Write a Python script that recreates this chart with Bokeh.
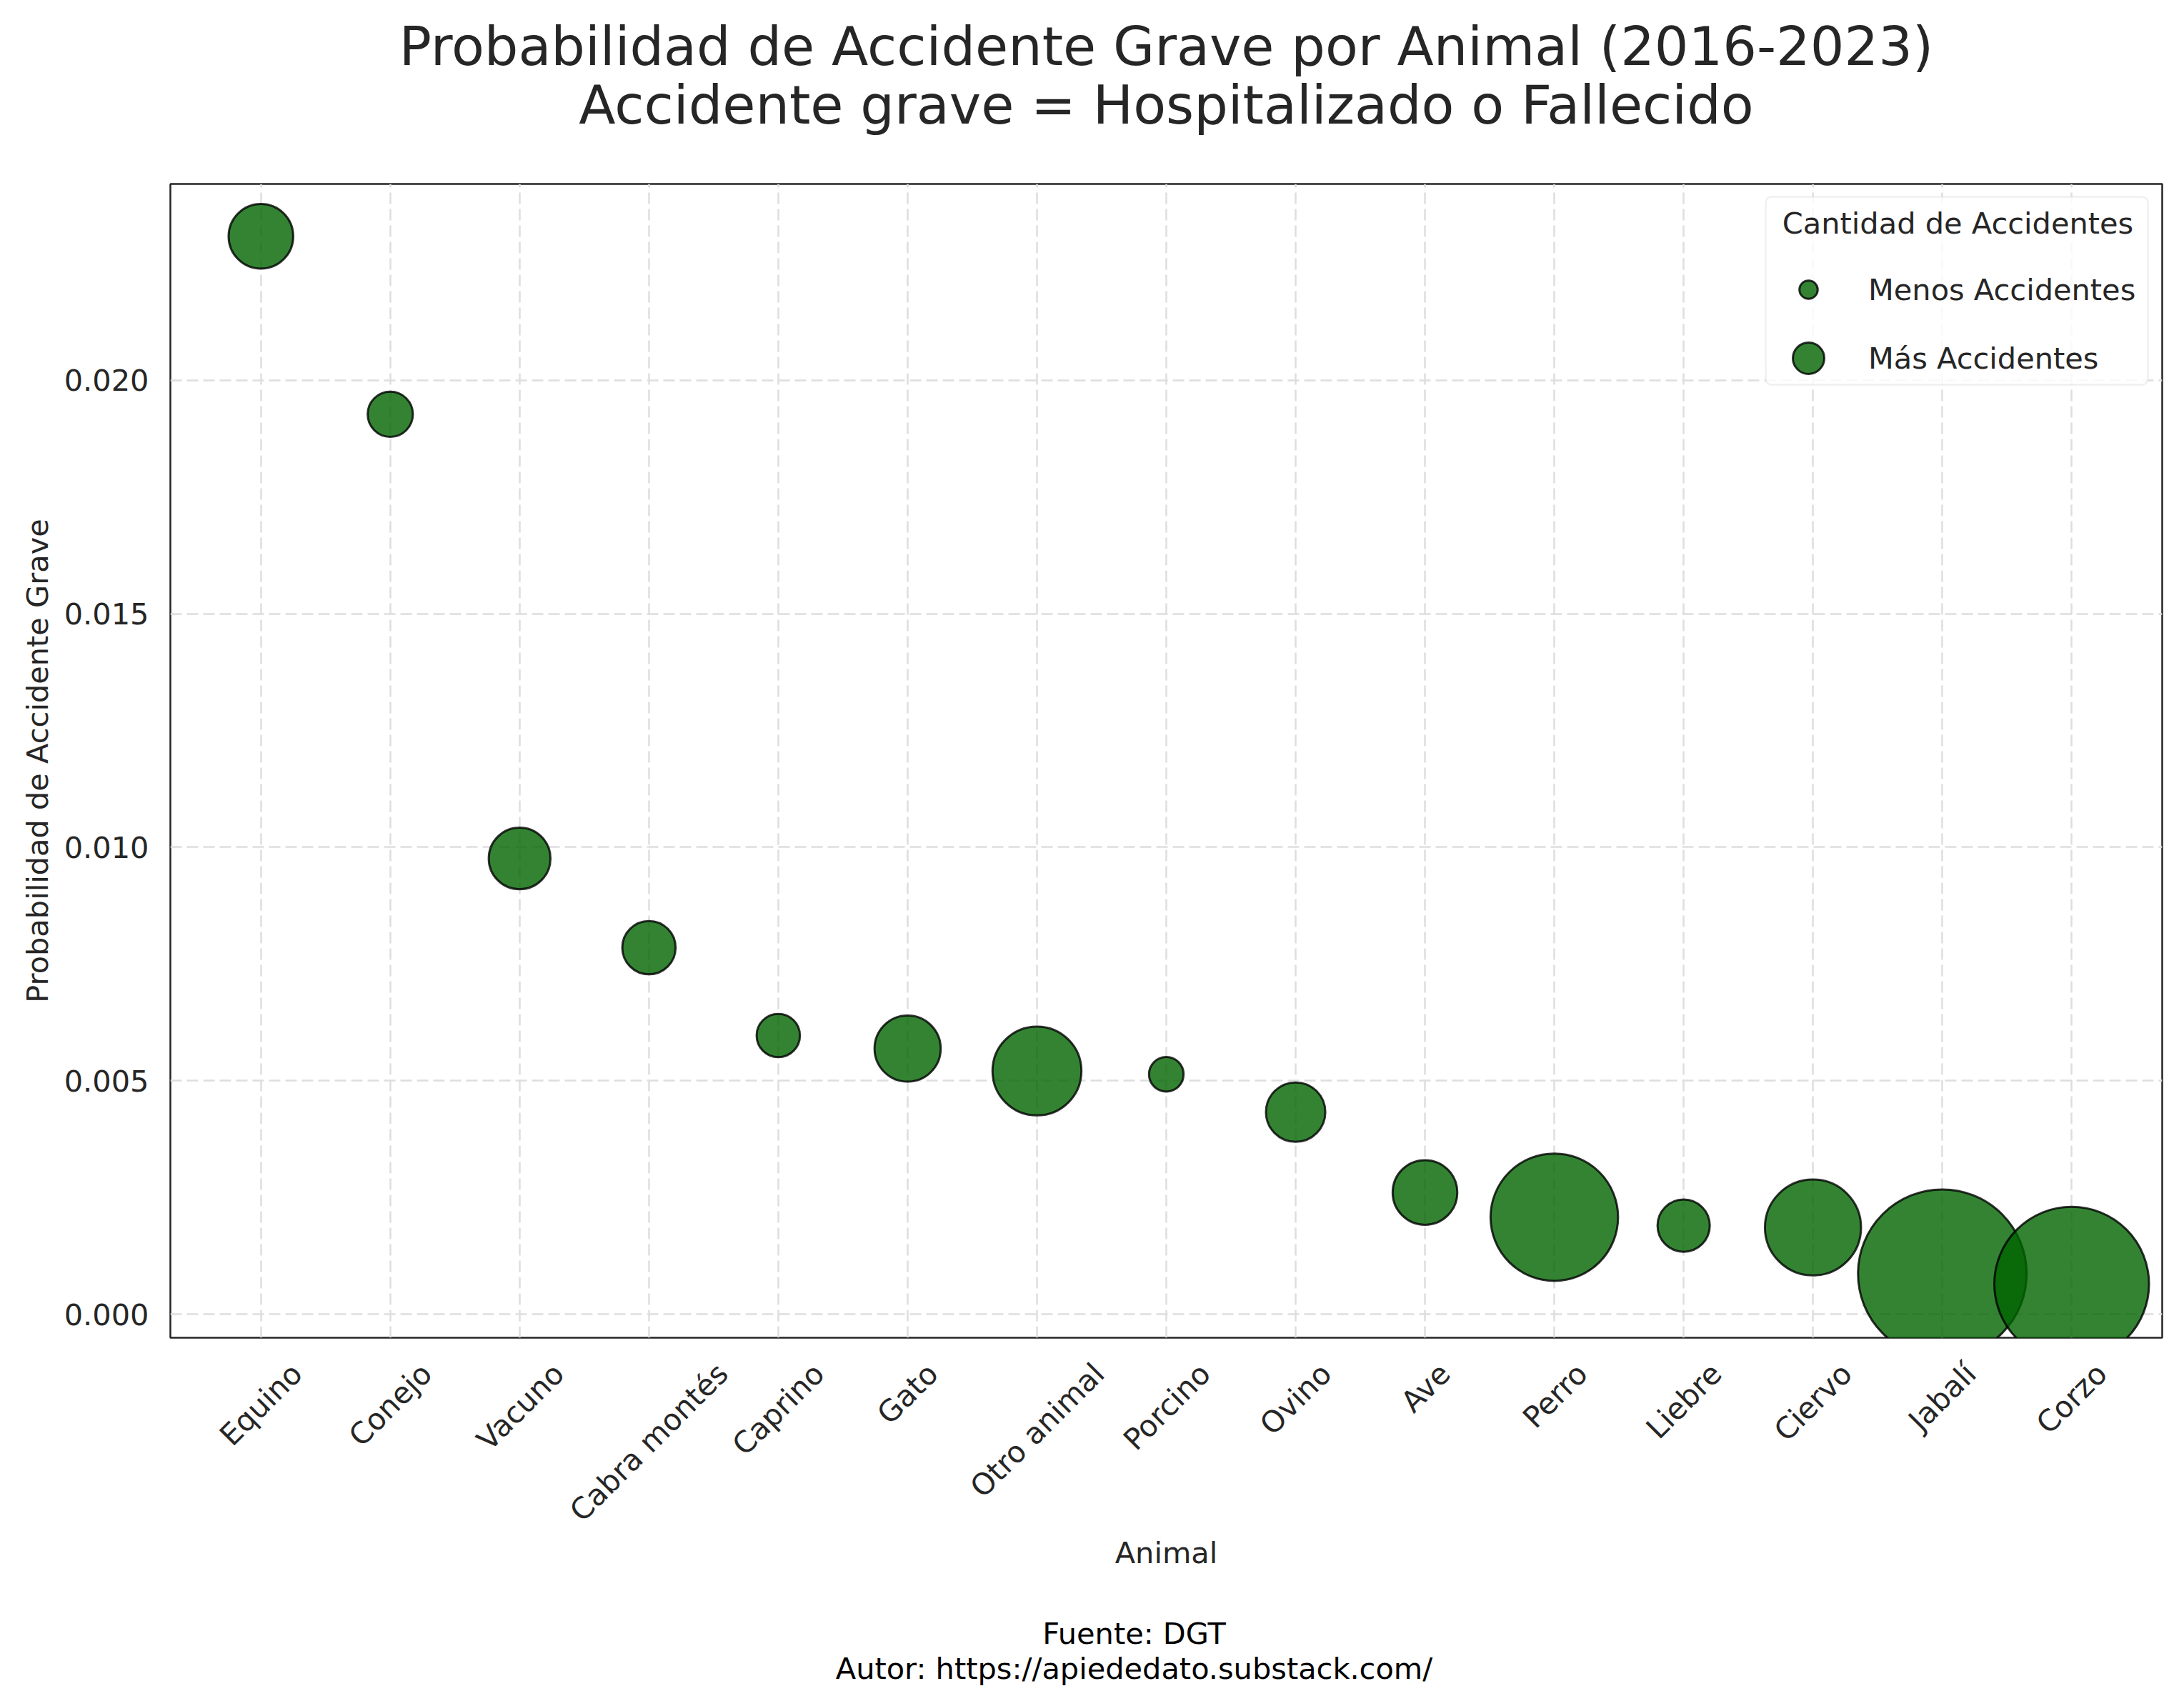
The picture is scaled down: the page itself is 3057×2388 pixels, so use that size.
import math
from bokeh.plotting import figure
from bokeh.layouts import column
from bokeh.models import (ColumnDataSource, Range1d, FixedTicker, NumeralTickFormatter,
                          Legend, LegendItem, BoxAnnotation, Label)
from bokeh.embed import file_html
from bokeh.resources import INLINE

# ---------------- data ----------------
animales = ["Equino", "Conejo", "Vacuno", "Cabra montés", "Caprino", "Gato", "Otro animal",
            "Porcino", "Ovino", "Ave", "Perro", "Liebre", "Ciervo", "Jabalí", "Corzo"]
probabilidad = [0.02308, 0.01927, 0.00976, 0.00785, 0.00597, 0.00569, 0.00521,
                0.00514, 0.00433, 0.00261, 0.00208, 0.00190, 0.00186, 0.00087, 0.00065]
# relative number of accidents (bubble area, estimated; largest = 1000)
cantidad_rel = [147, 72, 134, 100, 66, 154, 278, 42, 124, 147, 572, 96, 325, 1000, 842]
y_ticks = [0.0, 0.005, 0.010, 0.015, 0.020]

titulo_1 = "Probabilidad de Accidente Grave por Animal (2016-2023)"
titulo_2 = "Accidente grave = Hospitalizado o Fallecido"
eje_x = "Animal"
eje_y = "Probabilidad de Accidente Grave"
leyenda_titulo = "Cantidad de Accidentes"
leyenda_items = ["Menos Accidentes", "Más Accidentes"]
fuente = "Fuente: DGT"
autor = "Autor: https://apiededato.substack.com/"

# ---------------- style ----------------
FONT = "DejaVu Sans"
TXT = "#262626"
FSN = 41.5
FS = f"{FSN}px"
ML, MR, MT, MB = 238, 23, 10, 360
FW, FH = 2788, 1615
W = ML + FW + MR
HEAD_H, FOOT_H = 247, 148
X0, X1 = -0.7, 14.7
D_MAX = 236.0
GREEN = "darkgreen"
FOOT_XC = 1587  # footnote centre (page coordinates)

# DejaVu Sans advance widths (em) used to centre the rotated category labels
CW = {"E": .632, "q": .635, "u": .634, "i": .278, "n": .634, "o": .612, "C": .698, "j": .278,
      "e": .615, "V": .684, "a": .613, "c": .550, "b": .635, "r": .411, "m": .974, "t": .392,
      "é": .615, "s": .521, "p": .635, "G": .775, "O": .787, "l": .278, "P": .603, "v": .592,
      "A": .684, "L": .557, "J": .295, "í": .278, "z": .525, " ": .318}


def text_w(s, px):
    return sum(CW.get(c, .6) for c in s) * px


idx = list(range(len(animales)))
cmax = max(cantidad_rel)
diam = [D_MAX * math.sqrt(c / cmax) for c in cantidad_rel]
src = ColumnDataSource(dict(x=idx, y=probabilidad, size=diam, name=animales))

# label anchor (right end of rotated text) shifted so the text is centred on its tick
px_per_unit = FW / (X1 - X0)
label_ticks = [round(i + text_w(a, FSN) / (2 * math.sqrt(2)) / px_per_unit, 4)
               for i, a in zip(idx, animales)]

# ---------------- header (frame is aligned with the main plot's frame) ----------------
head = figure(width=W, height=HEAD_H, output_backend="svg", toolbar_location=None,
              x_axis_type=None, y_axis_type=None, min_border=0,
              x_range=Range1d(0, 1), y_range=Range1d(0, 1))
head.outline_line_color = None
head.grid.visible = False
for txt, yy in ((titulo_1, HEAD_H - 64), (titulo_2, HEAD_H - 146)):
    head.add_layout(Label(x=FW / 2, y=yy, x_units="screen", y_units="screen", text=txt,
                          text_align="center", text_baseline="middle", text_font=FONT,
                          text_font_size="75px", text_color=TXT))

# ---------------- main plot ----------------
p = figure(frame_width=FW, frame_height=FH, output_backend="svg", toolbar_location=None,
           x_range=Range1d(X0, X1), y_range=Range1d(-0.0005, 0.0242),
           min_border_left=ML, min_border_right=MR, min_border_top=MT, min_border_bottom=MB,
           background_fill_color="white", border_fill_color="white")

p.outline_line_color = TXT
p.outline_line_width = 2.5
p.outline_line_alpha = 1.0

for g in (p.xgrid, p.ygrid):
    g.grid_line_color = "#dedede"
    g.grid_line_width = 2.5
    g.grid_line_dash = "16 7"
p.xgrid.ticker = FixedTicker(ticks=idx)

p.xaxis.ticker = FixedTicker(ticks=label_ticks)
p.xaxis.major_label_overrides = {t: a for t, a in zip(label_ticks, animales)}
p.xaxis.major_label_orientation = math.pi / 4
p.yaxis.ticker = FixedTicker(ticks=y_ticks)
p.yaxis.formatter = NumeralTickFormatter(format="0.000")
for ax in (p.xaxis[0], p.yaxis[0]):
    ax.axis_line_color = None
    ax.major_tick_line_color = None
    ax.minor_tick_line_color = None
    ax.major_tick_out = 0
    ax.major_tick_in = 0
    ax.major_label_text_font = FONT
    ax.major_label_text_font_size = FS
    ax.major_label_text_color = TXT
    ax.axis_label_text_font = FONT
    ax.axis_label_text_font_size = FS
    ax.axis_label_text_color = TXT
    ax.axis_label_text_font_style = "normal"
p.xaxis.axis_label = eje_x
p.xaxis.major_label_standoff = 43
p.xaxis.axis_label_standoff = -11
p.yaxis.axis_label = eje_y
p.yaxis.major_label_standoff = 30
p.yaxis.axis_label_standoff = 10

r = p.scatter("x", "y", size="size", source=src, marker="circle",
              fill_color=GREEN, fill_alpha=0.8, line_color="black", line_alpha=0.8, line_width=3)

# legend (box + title + two entries with different marker sizes)
p.add_layout(BoxAnnotation(left=FW - 555, right=FW - 20, bottom=FH - 281, top=FH - 18,
                           left_units="screen", right_units="screen",
                           bottom_units="screen", top_units="screen",
                           fill_color="white", fill_alpha=0.8, line_color="#cccccc",
                           line_width=2.5, border_radius=8))
p.add_layout(Label(x=FW - 286, y=FH - 55, x_units="screen", y_units="screen",
                   text=leyenda_titulo, text_align="center", text_baseline="middle",
                   text_font=FONT, text_font_size=FS, text_color=TXT))
leg_common = dict(padding=0, margin=0, spacing=0, border_line_color=None,
                  background_fill_alpha=0.0, label_text_font=FONT, label_text_font_size=FS,
                  label_text_color=TXT)
leg_a = Legend(items=[LegendItem(label=leyenda_items[0], renderers=[r], index=0)],
               location=(FW - 527, FH - 180), glyph_width=64, glyph_height=64,
               label_standoff=52, **leg_common)
leg_b = Legend(items=[LegendItem(label=leyenda_items[1], renderers=[r], index=0)],
               location=(FW - 550, FH - 299), glyph_width=110, glyph_height=110,
               label_standoff=29, **leg_common)
p.add_layout(leg_a)
p.add_layout(leg_b)

# ---------------- footer (frame aligned with the main plot's frame) ----------------
foot = figure(width=W, height=FOOT_H, output_backend="svg", toolbar_location=None,
              x_axis_type=None, y_axis_type=None, min_border=0,
              x_range=Range1d(0, 1), y_range=Range1d(0, 1))
foot.outline_line_color = None
foot.grid.visible = False
for txt, yy in ((fuente, FOOT_H - 54), (autor, FOOT_H - 103)):
    foot.add_layout(Label(x=FOOT_XC - ML, y=yy, x_units="screen", y_units="screen", text=txt,
                          text_align="center", text_baseline="middle", text_font=FONT,
                          text_font_size=FS, text_color="black"))

layout = column(head, p, foot, spacing=0)
open("out.html", "w").write(file_html(layout, INLINE))
